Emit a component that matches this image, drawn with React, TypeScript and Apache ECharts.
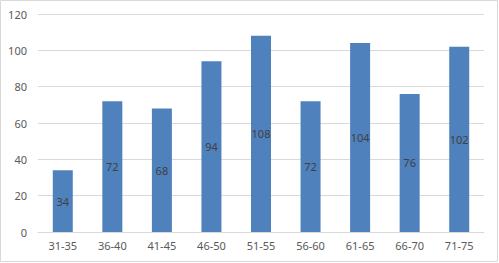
import React, { useEffect, useRef } from "react";
import * as echarts from "echarts";

const categories = ["31-35", "36-40", "41-45", "46-50", "51-55", "56-60", "61-65", "66-70", "71-75"];
const values = [34, 72, 68, 94, 108, 72, 104, 76, 102];

export default function App() {
  const ref = useRef<HTMLDivElement>(null);
  useEffect(() => {
    document.body.style.margin = "0";
    const chart = echarts.init(ref.current!, null, { renderer: "svg" });
    chart.setOption({
      animation: false,
      graphic: [
        {
          type: "rect",
          shape: { x: 0.5, y: 0.5, width: 497, height: 261 },
          style: { fill: "none", stroke: "#d9d9d9", lineWidth: 1 },
        },
      ],
      grid: { left: 38, right: 15, top: 14, bottom: 31 },
      xAxis: {
        type: "category",
        data: categories,
        axisLine: { show: true, lineStyle: { color: "#d9d9d9" } },
        axisTick: { show: false },
        axisLabel: { color: "#595959", fontSize: 11, fontFamily: "Noto Sans", margin: 8 },
      },
      yAxis: {
        type: "value",
        min: 0,
        max: 120,
        interval: 20,
        axisLine: { show: false },
        axisTick: { show: false },
        splitLine: { lineStyle: { color: "#d9d9d9" } },
        axisLabel: { color: "#595959", fontSize: 11, fontFamily: "Noto Sans", margin: 11 },
      },
      series: [
        {
          type: "bar",
          data: values,
          barWidth: 20,
          itemStyle: { color: "#4f81bd" },
          label: {
            show: true,
            position: "inside",
            color: "#404040",
            fontSize: 11,
            fontFamily: "Noto Sans",
          },
        },
      ],
    });
    return () => chart.dispose();
  }, []);
  return <div ref={ref} style={{ width: 499, height: 263 }} />;
}
